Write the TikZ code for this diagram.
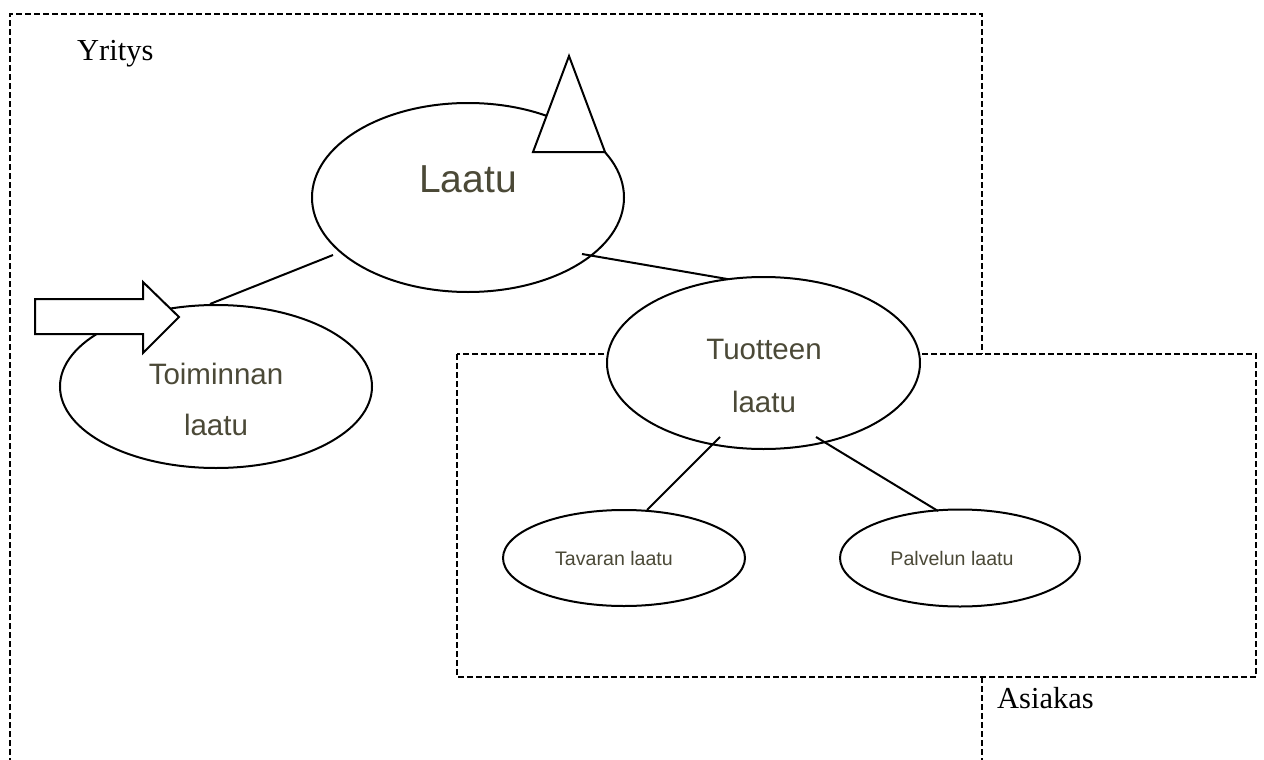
\documentclass[tikz,border=0pt]{standalone}
\usepackage{fontspec}
\setmainfont{Liberation Serif}
\newfontfamily\arialf{Liberation Sans}
\usetikzlibrary{shapes.geometric}
\definecolor{txt}{RGB}{75,73,55}
\begin{document}
\begin{tikzpicture}[x=1pt,y=-1pt,
  oval/.style={draw, ellipse, line width=2pt, fill=white, inner sep=0pt},
  box/.style={draw, line width=2.2pt, dash pattern=on 6pt off 3pt},
  link/.style={line width=2pt},
  shapeline/.style={line width=2pt, fill=white, line join=miter},
  big/.style={text=txt, inner sep=0pt, anchor=base, font=\arialf\fontsize{39}{40}\selectfont},
  mid/.style={text=txt, inner sep=0pt, anchor=base, font=\arialf\fontsize{29.5}{30}\selectfont},
  small/.style={text=txt, inner sep=0pt, anchor=base, font=\arialf\fontsize{19.6}{20}\selectfont},
  serif/.style={text=black, inner sep=0pt, anchor=base west, font=\fontsize{30.5}{31}\selectfont}]
\useasboundingbox (0,0) rectangle (1264,760);
\clip (0,0) rectangle (1264,760);
\fill[white] (0,0) rectangle (1264,760);
% Yritys box
\draw[box] (10,800) -- (10,14) -- (982,14) -- (982,800);
\node[serif] (yritys) at (77,60) {Yritys};
% Laatu
\node[oval, minimum width=312pt, minimum height=189pt] (laatu) at (468,197.5) {};
\draw[shapeline] (569,56) -- (605,152) -- (533,152) -- cycle;
\node[big] (laatutxt) at (468,192) {Laatu};
% Toiminnan laatu
\node[oval, minimum width=312pt, minimum height=163pt] (toim) at (216,386.5) {};
\coordinate (l1) at (333,255);
\coordinate (t1) at (210,304);
\draw[link] (l1) -- (t1);
\draw[shapeline] (35,299) -- (143,299) -- (143,282) -- (179,317) -- (143,353) -- (143,334) -- (35,334) -- cycle;
\node[mid] (toimtxt1) at (216,384) {Toiminnan};
\node[mid] (toimtxt2) at (216,435) {laatu};
% Asiakas box
\draw[box, fill=white] (457,354) rectangle (1256,677);
\node[serif] (asiakas) at (997,708) {Asiakas};
% Tuotteen laatu
\coordinate (l2) at (582,254);
\coordinate (t2) at (733,280);
\draw[link] (l2) -- (t2);
\node[oval, minimum width=313pt, minimum height=172pt] (tuot) at (763.5,363) {};
\node[mid] (tuottxt1) at (764,359) {Tuotteen};
\node[mid] (tuottxt2) at (764,412) {laatu};
% Tavaran / Palvelun
\node[oval, minimum width=242pt, minimum height=96pt] (tav) at (624,558) {};
\node[oval, minimum width=240pt, minimum height=97pt] (pal) at (960,558) {};
\node[small] (tavtxt) at (614,565) {Tavaran laatu};
\node[small] (paltxt) at (952,565) {Palvelun laatu};
\coordinate (u1) at (720,437);
\coordinate (v1) at (647,510);
\coordinate (u2) at (816,437);
\coordinate (v2) at (938,511);
\draw[link] (u1) -- (v1);
\draw[link] (u2) -- (v2);
\end{tikzpicture}
\end{document}
